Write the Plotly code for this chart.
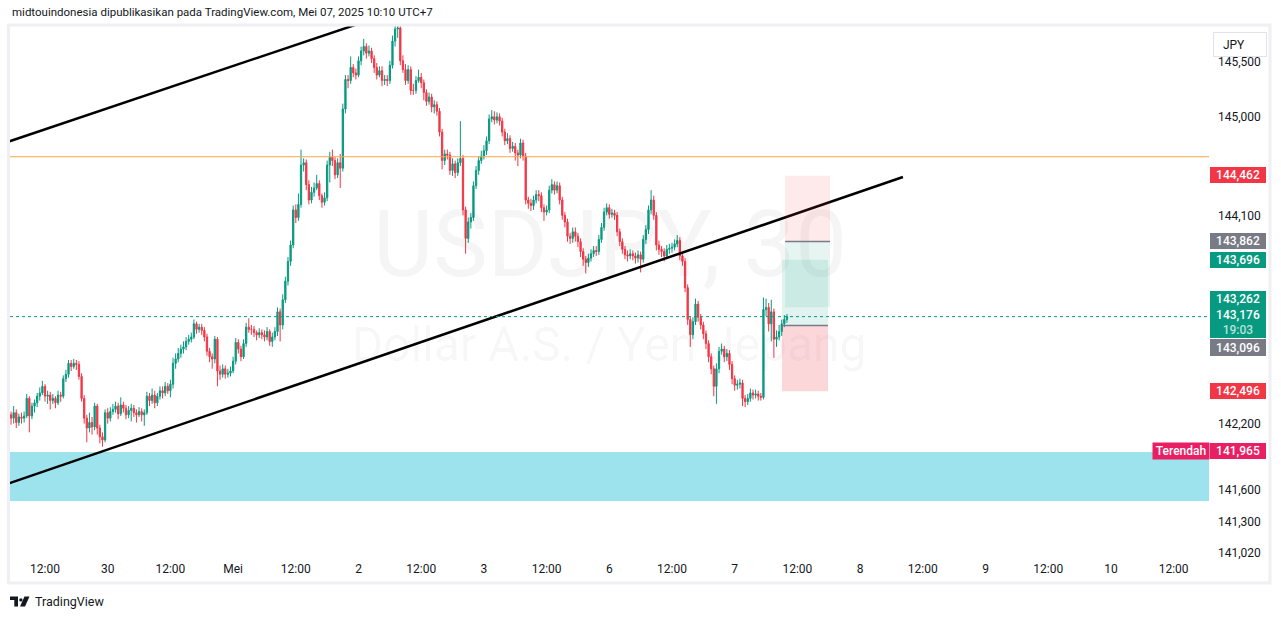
import plotly.graph_objects as go

# ---------------- data (USDJPY, 30-minute bars) ----------------
first_open = 142.28
closes = [
    142.25, 142.30, 142.21, 142.26, 142.25, 142.27, 142.43, 142.27, 142.36, 142.39,
    142.45, 142.48, 142.54, 142.45, 142.46, 142.41, 142.43, 142.39, 142.46, 142.45,
    142.61, 142.65, 142.75, 142.72, 142.75, 142.74, 142.63, 142.43, 142.25, 142.16,
    142.21, 142.17, 142.36, 142.16, 142.08, 142.05, 142.30, 142.25, 142.31, 142.33,
    142.36, 142.29, 142.37, 142.34, 142.28, 142.32, 142.34, 142.30, 142.28, 142.31,
    142.28, 142.30, 142.45, 142.41, 142.46, 142.39, 142.45, 142.50, 142.48, 142.54,
    142.50, 142.56, 142.75, 142.79, 142.84, 142.88, 142.90, 142.95, 142.97, 142.99,
    143.11, 143.06, 143.08, 143.05, 142.99, 142.86, 142.81, 142.79, 142.97, 142.68,
    142.65, 142.70, 142.65, 142.66, 142.68, 142.77, 142.94, 142.88, 142.81, 142.93,
    143.08, 143.06, 143.06, 143.03, 143.01, 143.03, 143.01, 142.99, 143.04, 142.95,
    142.99, 143.04, 143.22, 143.10, 143.33, 143.50, 143.68, 143.83, 144.15, 144.08,
    144.20, 144.56, 144.58, 144.38, 144.24, 144.31, 144.35, 144.39, 144.28, 144.22,
    144.26, 144.56, 144.63, 144.60, 144.47, 144.58, 144.53, 145.07, 145.34, 145.33,
    145.45, 145.40, 145.38, 145.51, 145.60, 145.64, 145.58, 145.60, 145.53, 145.45,
    145.38, 145.42, 145.33, 145.34, 145.33, 145.47, 145.69, 145.80, 145.81, 145.51,
    145.43, 145.33, 145.43, 145.24, 145.24, 145.33, 145.36, 145.31, 145.22, 145.14,
    145.18, 145.09, 145.11, 145.05, 144.86, 144.60, 144.66, 144.65, 144.51, 144.57,
    144.49, 144.58, 144.62, 144.15, 143.89, 144.04, 144.08, 144.37, 144.51, 144.60,
    144.64, 144.69, 144.78, 144.98, 145.00, 144.97, 145.00, 144.96, 144.86, 144.78,
    144.80, 144.71, 144.73, 144.67, 144.65, 144.76, 144.64, 144.24, 144.21, 144.19,
    144.24, 144.29, 144.28, 144.17, 144.13, 144.15, 144.33, 144.38, 144.33, 144.37,
    144.24, 144.10, 144.04, 143.91, 143.89, 143.95, 143.91, 143.86, 143.77, 143.70,
    143.67, 143.71, 143.75, 143.78, 143.77, 143.88, 143.99, 144.13, 144.17, 144.11,
    144.12, 144.10, 143.95, 143.86, 143.79, 143.74, 143.73, 143.75, 143.73, 143.71,
    143.74, 143.70, 143.88, 143.97, 144.15, 144.24, 144.10, 143.83, 143.79, 143.77,
    143.73, 143.79, 143.80, 143.81, 143.84, 143.87, 143.73, 143.68, 143.44, 143.15,
    143.01, 143.13, 143.29, 143.17, 143.10, 143.02, 142.93, 142.81, 142.70, 142.54,
    142.70, 142.86, 142.88, 142.81, 142.84, 142.74, 142.61, 142.55, 142.56, 142.57,
    142.43, 142.40, 142.43, 142.48, 142.46, 142.47, 142.45, 142.44, 143.24, 143.26,
    143.11, 143.22, 142.97, 142.99, 143.04, 143.11, 143.15, 143.176,
]
highs = [
    142.31, 142.36, 142.33, 142.29, 142.30, 142.31, 142.47, 142.45, 142.39, 142.42,
    142.48, 142.53, 142.59, 142.56, 142.50, 142.49, 142.47, 142.45, 142.50, 142.49,
    142.64, 142.69, 142.78, 142.78, 142.79, 142.78, 142.77, 142.66, 142.46, 142.28,
    142.30, 142.26, 142.39, 142.38, 142.19, 142.12, 142.33, 142.34, 142.35, 142.38,
    142.40, 142.39, 142.44, 142.40, 142.37, 142.36, 142.38, 142.37, 142.33, 142.35,
    142.34, 142.33, 142.49, 142.48, 142.52, 142.50, 142.48, 142.54, 142.54, 142.58,
    142.57, 142.60, 142.80, 142.84, 142.89, 142.92, 142.95, 142.99, 143.01, 143.03,
    143.15, 143.13, 143.11, 143.11, 143.08, 143.02, 142.89, 142.84, 143.00, 142.99,
    142.73, 142.74, 142.73, 142.70, 142.72, 142.81, 142.98, 142.97, 142.91, 142.97,
    143.12, 143.16, 143.10, 143.09, 143.05, 143.07, 143.06, 143.05, 143.08, 143.06,
    143.03, 143.08, 143.26, 143.25, 143.38, 143.54, 143.72, 143.87, 144.19, 144.20,
    144.30, 144.70, 144.62, 144.61, 144.42, 144.36, 144.40, 144.47, 144.42, 144.30,
    144.31, 144.60, 144.68, 144.70, 144.63, 144.62, 144.66, 145.12, 145.38, 145.38,
    145.55, 145.48, 145.44, 145.55, 145.64, 145.71, 145.67, 145.65, 145.63, 145.56,
    145.49, 145.46, 145.46, 145.38, 145.38, 145.51, 145.74, 145.90, 145.90, 145.84,
    145.56, 145.48, 145.47, 145.46, 145.30, 145.37, 145.43, 145.40, 145.34, 145.25,
    145.22, 145.21, 145.15, 145.14, 145.08, 144.89, 144.70, 144.70, 144.68, 144.62,
    144.60, 144.62, 144.96, 144.65, 144.18, 144.08, 144.12, 144.41, 144.55, 144.64,
    144.69, 144.74, 144.82, 145.02, 145.06, 145.05, 145.04, 145.03, 144.99, 144.89,
    144.85, 144.83, 144.77, 144.76, 144.70, 144.80, 144.79, 144.67, 144.27, 144.25,
    144.28, 144.33, 144.33, 144.31, 144.20, 144.19, 144.37, 144.43, 144.41, 144.41,
    144.40, 144.27, 144.13, 144.07, 143.94, 143.99, 143.99, 143.94, 143.89, 143.80,
    143.73, 143.75, 143.79, 143.82, 143.82, 143.92, 144.03, 144.17, 144.21, 144.20,
    144.16, 144.15, 144.13, 143.98, 143.89, 143.82, 143.78, 143.79, 143.78, 143.76,
    143.78, 143.77, 143.92, 144.01, 144.19, 144.33, 144.28, 144.13, 143.87, 143.82,
    143.80, 143.83, 143.84, 143.85, 143.88, 143.92, 143.90, 143.76, 143.71, 143.47,
    143.18, 143.17, 143.34, 143.32, 143.20, 143.13, 143.05, 142.96, 142.84, 142.73,
    142.75, 142.90, 142.93, 142.91, 142.88, 142.87, 142.77, 142.64, 142.60, 142.61,
    142.60, 142.46, 142.47, 142.52, 142.51, 142.51, 142.50, 142.48, 143.35, 143.34,
    143.30, 143.33, 143.25, 143.05, 143.10, 143.15, 143.19, 143.20,
]
lows = [
    142.19, 142.20, 142.16, 142.18, 142.20, 142.21, 142.25, 142.12, 142.24, 142.30,
    142.35, 142.41, 142.46, 142.40, 142.38, 142.33, 142.38, 142.34, 142.37, 142.40,
    142.43, 142.58, 142.62, 142.68, 142.70, 142.69, 142.60, 142.40, 142.20, 142.03,
    142.12, 142.10, 142.14, 142.10, 142.02, 141.99, 142.03, 142.20, 142.22, 142.28,
    142.30, 142.24, 142.27, 142.30, 142.24, 142.25, 142.22, 142.26, 142.21, 142.26,
    142.22, 142.18, 142.28, 142.36, 142.38, 142.34, 142.36, 142.42, 142.43, 142.45,
    142.47, 142.44, 142.52, 142.70, 142.76, 142.80, 142.84, 142.87, 142.92, 142.94,
    142.97, 143.02, 143.03, 143.01, 142.95, 142.82, 142.76, 142.70, 142.75, 142.54,
    142.60, 142.62, 142.61, 142.62, 142.63, 142.66, 142.74, 142.84, 142.77, 142.79,
    142.90, 143.03, 143.01, 142.99, 142.96, 142.98, 142.97, 142.95, 142.96, 142.91,
    142.90, 142.96, 143.00, 142.95, 143.06, 143.30, 143.46, 143.64, 143.80, 144.03,
    144.05, 144.17, 144.50, 144.33, 144.20, 144.21, 144.27, 144.33, 144.24, 144.17,
    144.19, 144.23, 144.40, 144.55, 144.43, 144.44, 144.35, 144.50, 145.03, 145.26,
    145.30, 145.36, 145.34, 145.36, 145.47, 145.56, 145.53, 145.55, 145.49, 145.40,
    145.34, 145.36, 145.28, 145.29, 145.28, 145.30, 145.44, 145.64, 145.72, 145.47,
    145.40, 145.29, 145.30, 145.20, 145.20, 145.21, 145.31, 145.26, 145.15, 145.10,
    145.11, 145.04, 145.03, 145.01, 144.82, 144.52, 144.56, 144.61, 144.47, 144.46,
    144.44, 144.46, 144.55, 144.10, 143.75, 143.85, 143.98, 144.05, 144.34, 144.47,
    144.57, 144.61, 144.65, 144.75, 144.95, 144.93, 144.94, 144.92, 144.82, 144.74,
    144.75, 144.67, 144.68, 144.60, 144.55, 144.62, 144.60, 144.20, 144.16, 144.14,
    144.15, 144.21, 144.23, 144.13, 144.05, 144.10, 144.12, 144.30, 144.29, 144.30,
    144.20, 144.06, 143.99, 143.86, 143.84, 143.85, 143.86, 143.81, 143.72, 143.64,
    143.57, 143.63, 143.68, 143.72, 143.73, 143.74, 143.85, 143.96, 144.10, 144.07,
    144.08, 144.06, 143.91, 143.82, 143.75, 143.70, 143.68, 143.70, 143.69, 143.66,
    143.67, 143.58, 143.67, 143.84, 143.93, 144.11, 144.06, 143.78, 143.74, 143.72,
    143.68, 143.70, 143.75, 143.76, 143.78, 143.81, 143.69, 143.64, 143.40, 143.10,
    142.90, 142.97, 143.10, 143.13, 143.06, 142.97, 142.88, 142.76, 142.65, 142.45,
    142.38, 142.66, 142.83, 142.76, 142.77, 142.69, 142.56, 142.50, 142.51, 142.52,
    142.36, 142.35, 142.37, 142.40, 142.42, 142.43, 142.41, 142.41, 142.42, 143.18,
    143.04, 142.95, 142.80, 142.90, 142.96, 143.00, 143.08, 143.12,
]
opens = [first_open] + closes[:-1]
bar_index = list(range(len(closes)))

x_tick_labels = ["12:00", "30", "12:00", "Mei", "12:00", "2", "12:00", "3", "12:00", "6",
                 "12:00", "7", "12:00", "8", "12:00", "9", "12:00", "10", "12:00"]
x_tick_bars = [13, 37, 61, 85, 109, 133, 157, 181, 205, 229,
               253, 277, 301, 325, 349, 373, 397, 421, 445]
y_tick_vals = [145.5, 145.0, 144.1, 142.2, 141.6, 141.3, 141.02]
y_tick_text = ["145,500", "145,000", "144,100", "142,200", "141,600", "141,300", "141,020"]

# drawings
trend_upper_x = [-5, 140]
trend_upper_y = [144.741, 145.904]
trend_lower_x = [-5, 341.4]
trend_lower_y = [141.620, 144.450]
zone_low, zone_high = 141.494, 141.941
hline_price = 144.635
last_price = 143.176
short_entry, short_stop, short_target = 143.862, 144.462, 143.262
long_entry, long_stop, long_target = 143.096, 142.496, 143.696
short_x = [296.3, 313.5]
long_x = [295.1, 312.7]

GREEN = "#089981"
RED = "#f23645"
GRAY = "#787b86"
TEXT = "#131722"
FONT = "Roboto"

# plot area in pixels
PL, PR, PT, PB = 10, 1209, 25, 556
W, H = 1281, 619


def px_x(px):
    return (px - PL) / (PR - PL)


def px_y(py):
    return (PB - py) / (PB - PT)


fig = go.Figure()

# watermark
fig.add_trace(go.Scatter(
    x=[229.3], y=[143.76], mode="text", text=["USDJPY, 30"],
    textfont=dict(family=FONT, size=92, color="rgba(19,23,34,0.045)"),
    hoverinfo="skip", showlegend=False))
fig.add_trace(go.Scatter(
    x=[228.9], y=[142.88], mode="text", text=["Dollar A.S. / Yen Jepang"],
    textfont=dict(family=FONT, size=48, color="rgba(19,23,34,0.045)"),
    hoverinfo="skip", showlegend=False))

fig.add_trace(go.Candlestick(
    x=bar_index, open=opens, high=highs, low=lows, close=closes,
    increasing=dict(line=dict(color=GREEN, width=1), fillcolor=GREEN),
    decreasing=dict(line=dict(color=RED, width=1), fillcolor=RED),
    whiskerwidth=0, showlegend=False, hoverinfo="skip"))

for tx, ty in ((trend_upper_x, trend_upper_y), (trend_lower_x, trend_lower_y)):
    fig.add_trace(go.Scatter(x=tx, y=ty, mode="lines",
                             line=dict(color="#000000", width=2.5),
                             hoverinfo="skip", showlegend=False))

shapes = []
# support zone
shapes.append(dict(type="rect", xref="paper", yref="y", x0=0, x1=1,
                   y0=zone_low, y1=zone_high, fillcolor="#9de3ee",
                   line=dict(width=0), layer="below"))
# horizontal line
shapes.append(dict(type="line", xref="paper", yref="y", x0=0, x1=1,
                   y0=hline_price, y1=hline_price,
                   line=dict(color="#f7a84a", width=1)))
# last price line
shapes.append(dict(type="line", xref="paper", yref="y", x0=0, x1=1,
                   y0=last_price, y1=last_price,
                   line=dict(color=GREEN, width=1, dash="dot")))
# short position tool
shapes.append(dict(type="rect", xref="x", yref="y", x0=short_x[0], x1=short_x[1],
                   y0=short_entry, y1=short_stop, fillcolor="rgba(242,54,69,0.11)",
                   line=dict(width=0)))
shapes.append(dict(type="rect", xref="x", yref="y", x0=short_x[0], x1=short_x[1],
                   y0=short_target, y1=short_entry, fillcolor="rgba(8,153,129,0.10)",
                   line=dict(width=0)))
# long position tool
shapes.append(dict(type="rect", xref="x", yref="y", x0=long_x[0], x1=long_x[1],
                   y0=long_stop, y1=long_entry, fillcolor="rgba(242,54,69,0.2)",
                   line=dict(width=0)))
shapes.append(dict(type="rect", xref="x", yref="y", x0=long_x[0], x1=long_x[1],
                   y0=long_entry, y1=long_target, fillcolor="rgba(8,153,129,0.12)",
                   line=dict(width=0)))
shapes.append(dict(type="line", xref="x", yref="y", x0=short_x[0], x1=short_x[1],
                   y0=short_entry, y1=short_entry, line=dict(color=GRAY, width=1.5)))
shapes.append(dict(type="line", xref="x", yref="y", x0=long_x[0], x1=long_x[1],
                   y0=long_entry, y1=long_entry, line=dict(color=GRAY, width=1.5)))
# chart frame
shapes.append(dict(type="rect", xref="paper", yref="paper",
                   x0=px_x(8.5), x1=px_x(1270), y0=px_y(583), y1=px_y(25),
                   line=dict(color="#eff0f3", width=3), fillcolor="rgba(0,0,0,0)"))
# TradingView logo
logo_T = "M {} {} L {} {} L {} {} L {} {} L {} {} L {} {} Z".format(
    px_x(10), px_y(596.5), px_x(18), px_y(596.5), px_x(18), px_y(606.5),
    px_x(14.3), px_y(606.5), px_x(14.3), px_y(600), px_x(10), px_y(600))
logo_S = "M {} {} L {} {} L {} {} L {} {} Z".format(
    px_x(24.5), px_y(596.5), px_x(29.5), px_y(596.5), px_x(25), px_y(606.5), px_x(20), px_y(606.5))
shapes.append(dict(type="path", xref="paper", yref="paper", path=logo_T,
                   fillcolor=TEXT, line=dict(width=0)))
shapes.append(dict(type="path", xref="paper", yref="paper", path=logo_S,
                   fillcolor=TEXT, line=dict(width=0)))
shapes.append(dict(type="circle", xref="paper", yref="paper",
                   x0=px_x(19.2), x1=px_x(22.6), y0=px_y(601.6), y1=px_y(598.2),
                   fillcolor=TEXT, line=dict(width=0)))

annotations = []
annotations.append(dict(
    xref="paper", yref="paper", x=px_x(10), y=px_y(12), xanchor="left", yanchor="middle",
    text="midtouindonesia dipublikasikan pada TradingView.com, Mei 07, 2025 10:10 UTC+7",
    showarrow=False, font=dict(family=FONT, size=11.5, color=TEXT)))
annotations.append(dict(
    xref="paper", yref="paper", x=px_x(33), y=px_y(601.5), xanchor="left", yanchor="middle",
    text="TradingView", showarrow=False, font=dict(family=FONT, size=12.5, color=TEXT)))
annotations.append(dict(
    xref="paper", yref="paper", x=px_x(1213), y=px_y(44), xanchor="left", yanchor="middle",
    text="\u00a0\u00a0\u00a0JPY", showarrow=False, width=52, height=23, align="left",
    valign="middle", bgcolor="#ffffff", bordercolor="#e0e3eb", borderwidth=1, borderpad=0,
    font=dict(family=FONT, size=12, color=TEXT)))

# price scale labels: (text, colour, centre pixel y, height)
price_labels = [
    ("144,462", RED, 175, 16),
    ("143,862", GRAY, 241, 16),
    ("143,696", GREEN, 259.5, 16),
    ("143,262", GREEN, 299, 16),
    ("143,176<br><span style='color:rgba(255,255,255,0.72)'>19:03</span>", GREEN, 322.5, 31),
    ("143,096", GRAY, 347, 17),
    ("142,496", RED, 391, 16),
    ("141,965", "#e91e63", 451, 16),
]
for txt, col, yc, hh in price_labels:
    annotations.append(dict(
        xref="paper", yref="paper", x=px_x(1210), y=px_y(yc), xanchor="left",
        yanchor="middle", text=txt, showarrow=False, width=56, height=hh,
        align="center", valign="middle", bgcolor=col, borderpad=0, borderwidth=0,
        font=dict(family=FONT, size=12, color="#ffffff", weight=500)))
annotations.append(dict(
    xref="paper", yref="paper", x=px_x(1152), y=px_y(451), xanchor="left",
    yanchor="middle", text="Terendah", showarrow=False, width=56, height=16,
    align="center", valign="middle", bgcolor="#e91e63", borderpad=0,
    font=dict(family=FONT, size=12, color="#ffffff", weight=500)))

fig.update_layout(
    width=W, height=H, autosize=False,
    margin=dict(l=PL, r=W - PR, t=PT, b=H - PB),
    paper_bgcolor="#ffffff", plot_bgcolor="#ffffff",
    showlegend=False, shapes=shapes, annotations=annotations,
    font=dict(family=FONT, size=12, color=TEXT),
    xaxis=dict(range=[-0.4, 458.55], showgrid=False, zeroline=False,
               rangeslider=dict(visible=False), tickmode="array",
               tickvals=x_tick_bars, ticktext=x_tick_labels, ticks="",
               ticklabelstandoff=4, tickfont=dict(family=FONT, size=12, color=TEXT),
               showline=False, fixedrange=True),
    yaxis=dict(range=[140.992, 145.837], side="right", showgrid=False, zeroline=False,
               tickmode="array", tickvals=y_tick_vals, ticktext=y_tick_text, ticks="",
               ticklabelstandoff=8, tickfont=dict(family=FONT, size=12, color=TEXT),
               showline=False, fixedrange=True),
)

fig.write_html("out.html", config={"displayModeBar": False},
               post_script="document.body.style.margin='0';document.body.style.overflow='hidden';")
